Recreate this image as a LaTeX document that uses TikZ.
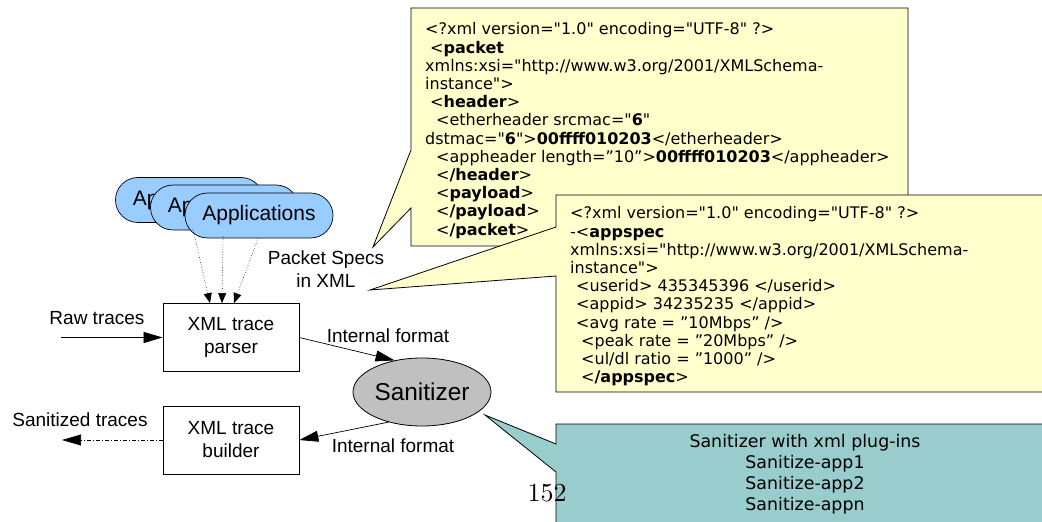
\documentclass[tikz,border=0pt]{standalone}
\usepackage{fontspec}
\setmainfont{Liberation Sans}
\newfontfamily\verd{DejaVu Sans}[Ligatures=TeXOff]
\newfontfamily\lmroman{lmroman10-regular.otf}
\usetikzlibrary{arrows.meta,shapes.geometric}
\definecolor{calloutyellow}{HTML}{FFFFCC}
\definecolor{calloutteal}{HTML}{99CCCC}
\definecolor{appblue}{HTML}{99CCFF}
\definecolor{sangray}{HTML}{C0C0C0}
\tikzset{
  callout/.style={draw=black, line width=0.8bp, line join=miter},
  xmltext/.style={inner sep=0, align=left, font=\verd\fontsize{16bp}{18.2bp}\selectfont},
  apppill/.style={draw, line width=0.7bp, fill=appblue, rounded corners=22.5bp, minimum width=148bp, minimum height=45bp, inner sep=0, font=\fontsize{21bp}{25bp}\selectfont},
  procbox/.style={draw, line width=0.8bp, fill=white, minimum width=136bp, minimum height=68bp, inner sep=0, align=center, font=\fontsize{19bp}{23bp}\selectfont},
  lbl/.style={inner sep=0, align=center, font=\fontsize{19bp}{23bp}\selectfont},
  bigarrow/.style={line width=0.7bp, -{Triangle[length=19bp,width=11bp]}},
  apparrow/.style={line width=0.6bp, dotted, -{Triangle[length=10bp,width=8bp]}},
}
\begin{document}
\begin{tikzpicture}[x=1bp,y=-1bp]
\useasboundingbox (0,0) rectangle (1042,522);
\clip (0,0) rectangle (1042,522);
\fill[white] (0,0) rectangle (1042,522);

% callout 1 (packet spec)
\draw[callout, fill=calloutyellow] (411,8) -- (908,8) -- (908,246) -- (411,246) -- (411,208) -- (373,247) -- (411,150) -- cycle;
\node[xmltext, anchor=north west] (spec1) at (425,22.6) {%
<?xml version="1.0" encoding="UTF-8" ?>\\
\hspace*{5bp}<\textbf{packet}\\
xmlns:xsi="http://www.w3.org/2001/XMLSchema-\\
instance">\\
\hspace*{5bp}<\textbf{header}>\\
\hspace*{11bp}<etherheader srcmac="\textbf{6}"\\
dstmac="\textbf{6}">\textbf{00ffff010203}</etherheader>\\
\hspace*{11bp}<appheader length=”10”>\textbf{00ffff010203}</appheader>\\
\hspace*{11bp}<\textbf{/header}>\\
\hspace*{11bp}<\textbf{payload}>\\
\hspace*{11bp}<\textbf{/payload}>\\
\hspace*{11bp}<\textbf{/packet}>};

% callout 2 (appspec)
\draw[callout, fill=calloutyellow] (556,195) -- (1050,195) -- (1050,392) -- (556,392) -- (556,276) -- (370,290) -- (556,227) -- cycle;
\node[xmltext, anchor=north west] (spec2) at (570,206.6) {%
<?xml version="1.0" encoding="UTF-8" ?>\\
-<\textbf{appspec}\\
xmlns:xsi="http://www.w3.org/2001/XMLSchema-\\
instance">\\
\hspace*{6bp}<userid> 435345396 </userid>\\
\hspace*{6bp}<appid> 34235235 </appid>\\
\hspace*{6bp}<avg rate = ”10Mbps” />\\
\hspace*{11bp}<peak rate = ”20Mbps” />\\
\hspace*{11bp}<ul/dl ratio = ”1000” />\\
\hspace*{11bp}<\textbf{/appspec}>};

% callout 3 (sanitizer plug-ins)
\draw[callout, fill=calloutteal] (556,424) -- (1050,424) -- (1050,530) -- (556,530) -- (556,472) -- (485,415) -- (556,444) -- cycle;
\node[inner sep=0, align=center, font=\verd\fontsize{17.4bp}{21bp}\selectfont] (plugins) at (805,474) {Sanitizer with xml plug-ins\\Sanitize-app1\\Sanitize-app2\\Sanitize-appn};

% applications
\node[apppill] (app1) at (189.5,200) {Applications};
\node[apppill] (app2) at (224.5,207.5) {Applications};
\node[apppill] (app3) at (259,215.5) {Applications};

% processing boxes
\node[procbox] (parser) at (231,337.5) {XML trace\\parser};
\node[procbox] (builder) at (231,440) {XML trace\\builder};
\node[ellipse, draw, line width=0.8bp, fill=sangray, minimum width=138bp, minimum height=68bp, inner sep=0, font=\fontsize{24.4bp}{28bp}\selectfont] (san) at (422,392) {Sanitizer};

% application arrows
\draw[apparrow] ([shift={(-66,-9)}]app3.south) -- ([xshift=-21bp]parser.north);
\draw[apparrow] ([shift={(-36,-2)}]app3.south) -- ([xshift=-9bp]parser.north);
\draw[apparrow] ([shift={(-1,0)}]app3.south) -- ([xshift=3bp]parser.north);

% traces
\coordinate (rawin) at (61,337.5);
\coordinate (sanout) at (62,440);
\draw[bigarrow] (rawin) -- (parser.west);
\draw[bigarrow, dash pattern=on 4bp off 2bp on 1bp off 2bp] (builder.west) -- (sanout);
\draw[bigarrow] (parser.east) -- (san.131);
\draw[bigarrow] (san.222) -- (builder.east);

% labels
\node[lbl] (rawlbl) at (97,318) {Raw traces};
\node[lbl] (sanlbl) at (80,420) {Sanitized traces};
\node[lbl] (int1) at (388,336) {Internal format};
\node[lbl] (int2) at (393,446) {Internal format};
\node[lbl] (pspec) at (326,269.5) {Packet Specs\\in XML};

% page number
\node[inner sep=0, font=\lmroman\fontsize{26bp}{30bp}\selectfont] (pagenum) at (547,493) {152};
\end{tikzpicture}
\end{document}
